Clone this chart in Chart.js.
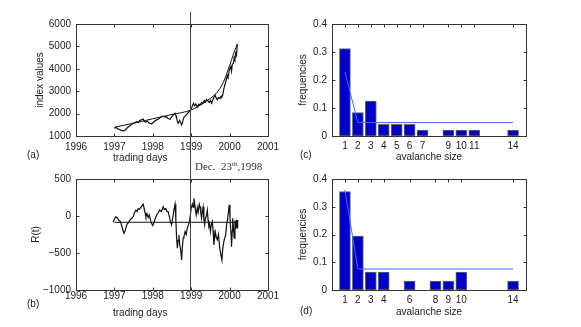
<!DOCTYPE html>
<html>
<head>
<meta charset="utf-8">
<script src="https://cdn.jsdelivr.net/npm/chart.js@4.4.1/dist/chart.umd.min.js"></script>
<style>
	body { margin: 0; background: #fff; }
	#wrap { position: relative; width: 581px; height: 327px; overflow: hidden; font-family: "Liberation Sans", Arial, sans-serif; }
	#wrap canvas { position: absolute; left: 0; top: 0; }
	.lab { position: absolute; font-size: 10px; line-height: 12px; color: #222; white-space: nowrap; }
	#dec { position: absolute; left: 195px; top: 160px; font: 11px "Liberation Serif", serif; line-height: 13px; color: #333; white-space: nowrap; }
	#dec sup { font-size: 7px; vertical-align: 4px; line-height: 0; }
</style>
</head>
<body>
<div id="wrap">
	<canvas id="chart_a" width="581" height="327"></canvas>
	<canvas id="chart_b" width="581" height="327"></canvas>
	<canvas id="chart_c" width="581" height="327"></canvas>
	<canvas id="chart_d" width="581" height="327"></canvas>
	<div class="lab" style="left: 27px; top: 149px;">(a)</div>
	<div class="lab" style="left: 27px; top: 298px;">(b)</div>
	<div class="lab" style="left: 300px; top: 149px;">(c)</div>
	<div class="lab" style="left: 300px; top: 305px;">(d)</div>
	<div class="lab" style="left: 113px; top: 152px;">trading days</div>
	<div class="lab" style="left: 113px; top: 307px;">trading days</div>
	<div id="dec">Dec.&nbsp; 23<sup>th</sup>,1998</div>
</div>
<script>
//
// Données.
//
// (a) Valeurs de l'indice et courbe d'ajustement.
const index_years = [ 1997.00, 1997.04, 1997.08, 1997.13, 1997.18, 1997.22, 1997.26, 1997.30, 1997.35, 1997.40, 1997.45, 1997.50, 1997.55, 1997.58, 1997.62, 1997.66, 1997.70, 1997.75, 1997.78, 1997.82, 1997.86, 1997.90, 1997.94, 1997.97, 1998.01, 1998.06, 1998.10, 1998.15, 1998.20, 1998.24, 1998.27, 1998.31, 1998.35, 1998.40, 1998.45, 1998.49, 1998.53, 1998.58, 1998.61, 1998.64, 1998.66, 1998.70, 1998.72, 1998.75, 1998.78, 1998.81, 1998.85, 1998.89, 1998.93, 1998.97, 1999.01, 1999.04, 1999.06, 1999.09, 1999.12, 1999.16, 1999.20, 1999.23, 1999.27, 1999.30, 1999.34, 1999.37, 1999.40, 1999.44, 1999.47, 1999.50, 1999.53, 1999.57, 1999.60, 1999.62, 1999.65, 1999.68, 1999.71, 1999.75, 1999.78, 1999.80, 1999.82, 1999.85, 1999.88, 1999.91, 1999.94, 1999.96, 1999.99, 2000.01, 2000.03, 2000.05, 2000.07, 2000.10, 2000.12, 2000.14, 2000.16, 2000.18, 2000.20 ];
const index_values = [ 1344, 1380, 1330, 1290, 1250, 1230, 1237, 1300, 1390, 1450, 1520, 1580, 1610, 1640, 1600, 1690, 1720, 1760, 1650, 1620, 1660, 1580, 1560, 1535, 1600, 1680, 1720, 1760, 1830, 1870, 1890, 1840, 1860, 1780, 1745, 1850, 1930, 2010, 1880, 1650, 1567, 1700, 1620, 1490, 1650, 1835, 1900, 1980, 2060, 2130, 2250, 2380, 2460, 2350, 2430, 2300, 2420, 2380, 2500, 2450, 2580, 2520, 2640, 2560, 2500, 2580, 2460, 2650, 2750, 2830, 2700, 2620, 2720, 2680, 2780, 2750, 2830, 3100, 3300, 3500, 3700, 3600, 3950, 3950, 4100, 3900, 4200, 4250, 4500, 4400, 4700, 4600, 5100 ];
const fit_years = [ 1997.0, 1997.5, 1998.0, 1998.5, 1999.0, 1999.25, 1999.5, 1999.65, 1999.75, 1999.85, 1999.95, 2000.05, 2000.13, 2000.2 ];
const fit_values = [ 1390, 1570, 1770, 1960, 2160, 2390, 2680, 2900, 3130, 3450, 3900, 4400, 4800, 5100 ];

// (b) Résidus R(t) et leur niveau moyen.
const r_years = [ 1996.97, 1997.00, 1997.04, 1997.08, 1997.12, 1997.15, 1997.19, 1997.22, 1997.25, 1997.28, 1997.32, 1997.36, 1997.40, 1997.45, 1997.49, 1997.52, 1997.56, 1997.59, 1997.62, 1997.65, 1997.67, 1997.71, 1997.75, 1997.78, 1997.80, 1997.82, 1997.85, 1997.88, 1997.91, 1997.94, 1997.97, 1998.00, 1998.03, 1998.06, 1998.10, 1998.14, 1998.18, 1998.22, 1998.27, 1998.30, 1998.34, 1998.37, 1998.40, 1998.43, 1998.46, 1998.49, 1998.52, 1998.55, 1998.58, 1998.60, 1998.62, 1998.64, 1998.66, 1998.68, 1998.70, 1998.73, 1998.75, 1998.77, 1998.79, 1998.81, 1998.84, 1998.87, 1998.90, 1998.93, 1998.96, 1999.00, 1999.03, 1999.05, 1999.07, 1999.09, 1999.11, 1999.13, 1999.16, 1999.18, 1999.21, 1999.23, 1999.25, 1999.27, 1999.29, 1999.31, 1999.33, 1999.35, 1999.37, 1999.40, 1999.42, 1999.44, 1999.46, 1999.48, 1999.50, 1999.52, 1999.55, 1999.57, 1999.59, 1999.61, 1999.63, 1999.65, 1999.68, 1999.71, 1999.74, 1999.77, 1999.80, 1999.82, 1999.85, 1999.87, 1999.90, 1999.92, 1999.95, 1999.97, 1999.99, 2000.01, 2000.02, 2000.04, 2000.05, 2000.07, 2000.08, 2000.10, 2000.12, 2000.14, 2000.16, 2000.18, 2000.20, 2000.21 ];
const r_values = [ -85, -40, -10, -30, -60, -70, -130, -190, -235, -200, -120, -90, -60, -30, -10, 40, 80, 60, 100, 90, 105, 130, 160, 90, 40, -10, 30, -20, 15, -60, -100, -130, -90, -40, 15, 40, 80, 60, 125, 90, 100, 60, 60, -10, -80, -120, -20, 80, 160, -50, -300, -435, -330, -255, -380, -470, -595, -420, -300, -280, -210, -250, -160, -120, -60, 105, 160, 120, 240, 170, 80, 15, 110, 50, 160, 125, 40, -30, 60, 120, -40, -120, -30, 15, 80, -60, -140, -110, -210, -130, -75, -190, -390, -300, -220, -280, -320, -250, -420, -520, -595, -450, -345, -300, -255, -120, -40, 60, 150, -20, -120, -250, -415, -200, -30, -150, -300, -60, -180, -50, -160, -55 ];
const level_years = [ 1997.0, 2000.2 ];
const level_values = [ -85, -85 ];

// (c) Fréquences des tailles d'avalanche et ajustement.
const sizes_c = [ 1, 2, 3, 4, 5, 6, 7, 9, 10, 11, 14 ];
const freq_c = [ 0.3125, 0.0833, 0.125, 0.0417, 0.0417, 0.0417, 0.0208, 0.0208, 0.0208, 0.0208, 0.0208 ];
const fit_sizes_c = [ 1, 2, 14 ];
const fit_freq_c = [ 0.23, 0.048, 0.048 ];

// (d) Fréquences des tailles d'avalanche et ajustement.
const sizes_d = [ 1, 2, 3, 4, 6, 8, 9, 10, 14 ];
const freq_d = [ 0.355, 0.194, 0.0645, 0.0645, 0.0323, 0.0323, 0.0323, 0.0645, 0.0323 ];
const fit_sizes_d = [ 1, 2, 14 ];
const fit_freq_d = [ 0.36, 0.0757, 0.0757 ];

// Date du krach (trait vertical).
const crash_date = 1998.975;

//
// Outils communs.
//
const font = { family: "'Liberation Sans', Arial, sans-serif", size: 10 };
const text_color = "#222";

function points( xs, ys )
{
	return xs.map( ( x, i ) => ( { x: x, y: ys[ i ] } ) );
}

function minus( value )
{
	return String( value ).replace( "-", "\u2212" );
}

// Cadre façon Matlab : bordure complète et graduations vers l'intérieur.
const matlab_box = {
	id: "matlab_box",
	afterDatasetsDraw( chart )
	{
		const { ctx, chartArea, scales } = chart;
		const left = Math.round( chartArea.left ) + 0.5;
		const right = Math.round( chartArea.right ) + 0.5;
		const top = Math.round( chartArea.top ) + 0.5;
		const bottom = Math.round( chartArea.bottom ) + 0.5;

		ctx.save();
		ctx.strokeStyle = "#333";
		ctx.lineWidth = 1;
		ctx.strokeRect( left, top, right - left, bottom - top );
		ctx.beginPath();
		scales.x.ticks.forEach( ( tick ) =>
		{
			const x = Math.round( scales.x.getPixelForValue( tick.value ) ) + 0.5;
			ctx.moveTo( x, bottom ); ctx.lineTo( x, bottom - 3 );
			ctx.moveTo( x, top ); ctx.lineTo( x, top + 3 );
		} );
		scales.y.ticks.forEach( ( tick ) =>
		{
			const y = Math.round( scales.y.getPixelForValue( tick.value ) ) + 0.5;
			ctx.moveTo( left, y ); ctx.lineTo( left + 3, y );
			ctx.moveTo( right, y ); ctx.lineTo( right - 3, y );
		} );
		ctx.stroke();
		ctx.restore();
	}
};

// Trait vertical du 23 décembre 1998, qui traverse les panneaux (a) et (b).
const crash_line = {
	id: "crash_line",
	afterDraw( chart )
	{
		const { ctx, chartArea, scales } = chart;
		const x = Math.round( scales.x.getPixelForValue( crash_date ) ) + 0.5;

		ctx.save();
		ctx.strokeStyle = "#444";
		ctx.lineWidth = 1;
		ctx.beginPath();
		ctx.moveTo( x, 12 );
		ctx.lineTo( x, chartArea.bottom );
		ctx.stroke();
		ctx.restore();
	}
};

// Axes d'un panneau : taille fixe pour placer la zone de tracé au pixel près.
function make_scales( x_axis, y_axis )
{
	return {
		x: {
			type: "linear",
			min: x_axis.min,
			max: x_axis.max,
			offset: false,
			grid: { display: false, drawTicks: false },
			border: { display: false },
			afterBuildTicks: ( axis ) => { axis.ticks = x_axis.ticks.map( ( v ) => ( { value: v } ) ); },
			afterFit: ( axis ) => { axis.height = 30; },
			ticks: {
				color: text_color,
				font: font,
				padding: x_axis.tick_padding,
				autoSkip: false,
				maxRotation: 0,
				callback: ( v ) => String( v )
			},
			title: {
				display: x_axis.title !== "",
				text: x_axis.title,
				color: text_color,
				font: font,
				padding: { top: 0, bottom: x_axis.title_padding }
			}
		},
		y: {
			type: "linear",
			min: y_axis.min,
			max: y_axis.max,
			grid: { display: false, drawTicks: false },
			border: { display: false },
			afterFit: ( axis ) => { axis.width = y_axis.width; },
			ticks: {
				color: text_color,
				font: font,
				padding: 5,
				stepSize: y_axis.step,
				callback: y_axis.format
			},
			title: {
				display: true,
				text: y_axis.title,
				color: text_color,
				font: font,
				padding: { top: y_axis.title_padding, bottom: 0 }
			}
		}
	};
}

function base_options( padding, scales )
{
	return {
		responsive: false,
		animation: false,
		devicePixelRatio: 1,
		layout: { padding: padding },
		plugins: { legend: { display: false }, tooltip: { enabled: false } },
		scales: scales
	};
}

const year_ticks = [ 1996, 1997, 1998, 1999, 2000, 2001 ];

//
// (a) Indice et courbe ajustée (titre de l'axe X placé en HTML, décalé à gauche).
//
new Chart( document.getElementById( "chart_a" ),
	{
		type: "scatter",
		data: {
			datasets: [
				{ data: points( index_years, index_values ), showLine: true, borderColor: "#111", borderWidth: 1.2, pointRadius: 0 },
				{ data: points( fit_years, fit_values ), showLine: true, borderColor: "#111", borderWidth: 1, pointRadius: 0, cubicInterpolationMode: "monotone" }
			]
		},
		options: base_options( { left: 30, right: 313, top: 24, bottom: 161 },
			make_scales(
				{ min: 1996, max: 2001, ticks: year_ticks, title: "", tick_padding: 5, title_padding: 1 },
				{ min: 1000, max: 6000, step: 1000, width: 46, title: "index values", title_padding: 4, format: ( v ) => String( v ) }
			) ),
		plugins: [ matlab_box ]
	} );

//
// (b) Résidus R(t).
//
new Chart( document.getElementById( "chart_b" ),
	{
		type: "scatter",
		data: {
			datasets: [
				{ data: points( r_years, r_values ), showLine: true, borderColor: "#111", borderWidth: 1.2, pointRadius: 0 },
				{ data: points( level_years, level_values ), showLine: true, borderColor: "#111", borderWidth: 1, pointRadius: 0 }
			]
		},
		options: base_options( { left: 30, right: 313, top: 179, bottom: 7 },
			make_scales(
				{ min: 1996, max: 2001, ticks: year_ticks, title: "", tick_padding: 0, title_padding: 1 },
				{ min: -1000, max: 500, step: 500, width: 46, title: "R(t)", title_padding: 0, format: minus }
			) ),
		plugins: [ matlab_box, crash_line ]
	} );

//
// (c) et (d) Histogrammes des tailles d'avalanche.
//
function avalanche_chart( id, sizes, freqs, fit_sizes, fit_freqs, padding, tick_padding, title_padding )
{
	new Chart( document.getElementById( id ),
		{
			type: "bar",
			data: {
				datasets: [
					{
						type: "line",
						order: 0,
						data: points( fit_sizes, fit_freqs ),
						borderColor: "#4466ff",
						borderWidth: 1,
						pointRadius: 0
					},
					{
						order: 1,
						data: points( sizes, freqs ),
						backgroundColor: "#0000cc",
						borderColor: "#666",
						borderWidth: 1,
						borderSkipped: false,
						barThickness: 11
					}
				]
			},
			options: base_options( padding,
				make_scales(
					{ min: 0, max: 15, ticks: sizes, title: "avalanche size", tick_padding: tick_padding, title_padding: title_padding },
					{ min: 0, max: 0.4, step: 0.1, width: 36, title: "frequencies", title_padding: 1, format: ( v ) => String( Math.round( v * 10 ) / 10 ) }
				) ),
			plugins: [ matlab_box ]
		} );
}

avalanche_chart( "chart_c", sizes_c, freq_c, fit_sizes_c, fit_freq_c, { left: 296, right: 55, top: 24, bottom: 161 }, 4, 3 );
avalanche_chart( "chart_d", sizes_d, freq_d, fit_sizes_d, fit_freq_d, { left: 296, right: 55, top: 179, bottom: 7 }, 4, 2 );
</script>
</body>
</html>
